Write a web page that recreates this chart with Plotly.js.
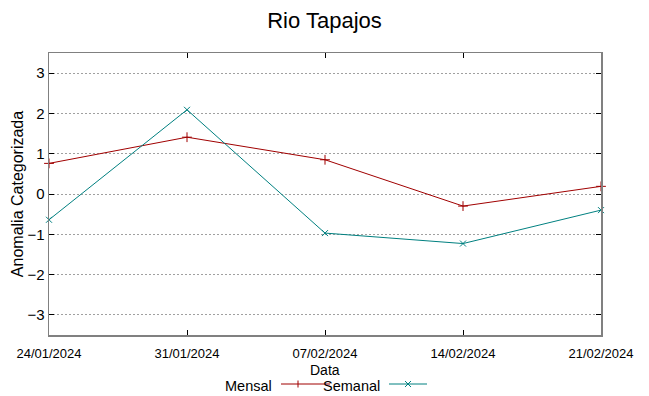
<!DOCTYPE html>
<html><head><meta charset="utf-8">
<script src="https://cdn.plot.ly/plotly-3.0.1.min.js"></script>
<style>html,body{margin:0;padding:0;background:#fff}#c{width:649px;height:396px}</style>
</head><body><div id="c"></div>
<script>
const dates = ['2024-01-24','2024-01-31','2024-02-07','2024-02-14','2024-02-21'];
const tickLabels = ['24/01/2024','31/01/2024','07/02/2024','14/02/2024','21/02/2024'];
const mensal = [0.76, 1.41, 0.85, -0.30, 0.19];
const semanal = [-0.64, 2.09, -0.97, -1.23, -0.40];
const yTicks = [-3,-2,-1,0,1,2,3];

const red = '#a00000', teal = '#008080';
const traces = [
  {x: dates, y: mensal, name:'Mensal', type:'scatter', mode:'lines+markers', cliponaxis:false,
   line:{color:red, width:1}, marker:{symbol:'cross-thin', size:7, line:{color:red, width:1}}},
  {x: dates, y: semanal, name:'Semanal', type:'scatter', mode:'lines+markers', cliponaxis:false,
   line:{color:teal, width:1}, marker:{symbol:'x-thin', size:6, line:{color:teal, width:1}}}
];
const font = 'Liberation Sans, Arial, sans-serif';
const W=649,H=396;
const pl=49, pw=649-49-48, pt=53, ph=396-53-61;
function fx(x){return (x-pl)/pw;} function fy(y){return (pt+ph-y)/ph;}
const ly=384;
const layout = {
  width:W, height:H, showlegend:false,
  margin:{l:49, r:48, t:53, b:61},
  paper_bgcolor:'#fff', plot_bgcolor:'#fff',
  font:{family:font, color:'#000'},
  title:{text:'Rio Tapajos', font:{size:22, family:font}, x:0.5, xanchor:'center', y:1-20/H, yanchor:'middle'},
  xaxis:{type:'date', range:[dates[0], dates[dates.length-1]], tickvals:dates, ticktext:tickLabels,
    ticks:'inside', ticklen:5, tickcolor:'#000', mirror:'ticks', showline:true, linecolor:'#808080', linewidth:1.5,
    showgrid:false, zeroline:false, tickfont:{family:font, size:13}, ticklabelstandoff:6},
  yaxis:{range:[-3.5,3.5], tickvals:yTicks, ticks:'inside', ticklen:5, tickcolor:'#000', mirror:'ticks',
    showline:true, linecolor:'#808080', linewidth:1.5, showgrid:true, gridcolor:'#a0a0a0', griddash:'2px,2px', gridwidth:1,
    zeroline:false, tickfont:{size:15, family:font},
    title:{text:'Anomalia Categorizada', font:{size:16, family:font}, standoff:0}},
  annotations:[
    {text:'Data', xref:'paper', yref:'paper', x:fx(325), y:fy(369.5), xanchor:'center', yanchor:'middle', showarrow:false, font:{size:14, family:font}},
    {text:'Mensal', xref:'paper', yref:'paper', x:fx(274), y:fy(ly+1.5), xanchor:'right', yanchor:'middle', showarrow:false, font:{size:14.5, family:font}},
    {text:'Semanal', xref:'paper', yref:'paper', x:fx(382), y:fy(ly+1.5), xanchor:'right', yanchor:'middle', showarrow:false, font:{size:14.5, family:font}}
  ],
  shapes:[
    {type:'line', xref:'paper', yref:'paper', x0:fx(281), x1:fx(330), y0:fy(ly), y1:fy(ly), line:{color:red, width:1}},
    {type:'line', xref:'paper', yref:'paper', x0:fx(298), x1:fx(298), y0:fy(ly-3.5), y1:fy(ly+3.5), line:{color:red, width:1}},
    {type:'line', xref:'paper', yref:'paper', x0:fx(389), x1:fx(427), y0:fy(ly), y1:fy(ly), line:{color:teal, width:1}},
    {type:'line', xref:'paper', yref:'paper', x0:fx(405), x1:fx(411), y0:fy(ly-3), y1:fy(ly+3), line:{color:teal, width:1}},
    {type:'line', xref:'paper', yref:'paper', x0:fx(405), x1:fx(411), y0:fy(ly+3), y1:fy(ly-3), line:{color:teal, width:1}}
  ]
};
Plotly.newPlot('c', traces, layout, {staticPlot:true, displayModeBar:false});
</script></body></html>
